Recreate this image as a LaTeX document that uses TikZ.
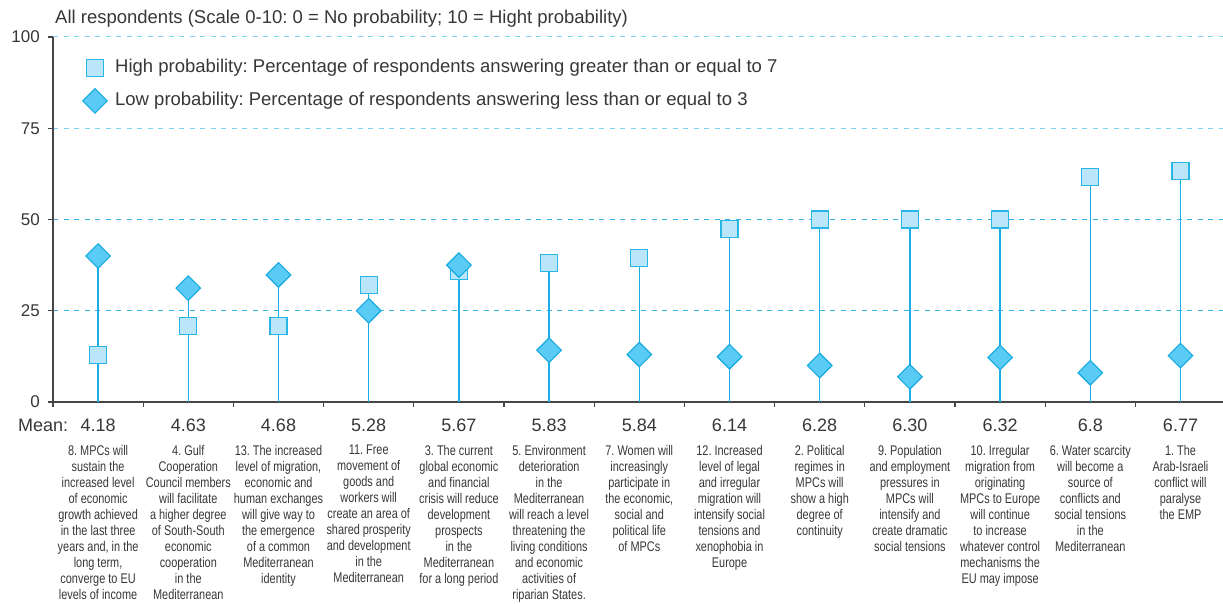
\documentclass[tikz,border=0pt]{standalone}
\usepackage{fontspec}
\setmainfont{Liberation Sans}
\newfontfamily\narrowfont[FakeStretch=0.78]{Liberation Sans}
\usetikzlibrary{shapes.geometric}
\frenchspacing

\definecolor{textgray}{RGB}{55,55,55}
\definecolor{axisgray}{RGB}{70,70,70}
\definecolor{stemblue}{RGB}{25,175,230}
\definecolor{gridlight}{RGB}{125,212,245}
\definecolor{griddark}{RGB}{55,178,228}
\definecolor{squarefill}{RGB}{187,229,248}
\definecolor{squareline}{RGB}{40,182,233}
\definecolor{diamondfill}{RGB}{90,203,245}
\definecolor{diamondline}{RGB}{20,170,225}

\tikzset{
  stemline/.style={stemblue, line width=1.3pt},
  gridline/.style={dash pattern=on 5pt off 5.5pt, line width=1pt},
  highmark/.style={draw=squareline, fill=squarefill, line width=1.1pt, minimum size=17pt, inner sep=0pt},
  lowmark/.style={diamond, aspect=1, draw=diamondline, fill=diamondfill, line width=1.1pt, minimum width=25pt, minimum height=25pt, inner sep=0pt},
  ticklabel/.style={anchor=east, inner sep=0pt, text=textgray, font=\fontsize{17}{19}\selectfont},
  meanlabel/.style={inner sep=0pt, text=textgray, font=\fontsize{18}{20}\selectfont},
  legendtext/.style={anchor=west, inner sep=0pt, text=textgray, font=\fontsize{18.5}{20}\selectfont},
  question/.style={anchor=north, align=center, inner sep=0pt, text=textgray, font=\narrowfont\fontsize{14}{16}\selectfont},
}

\begin{document}
\begin{tikzpicture}[x=90.2pt, y=3.65pt]
  \useasboundingbox (-53pt,-201pt) rectangle (1170pt,402pt);

  % Title
  \node[anchor=west, inner sep=0pt, text=textgray, font=\fontsize{18.5}{20}\selectfont] (title) at (0.022,105.1)
    {All respondents (Scale 0-10: 0 = No probability; 10 = Hight probability)};

  % Grid
  \draw[gridline, gridlight] (0,100) -- (12.971,100);
  \draw[gridline, gridlight] (0,75) -- (12.971,75);
  \draw[gridline, griddark] (0,50) -- (12.971,50);
  \draw[gridline, griddark] (0,25) -- (12.971,25);

  % Axes
  \draw[axisgray, line width=1.3pt] (0,100) -- (0,0) -- (12.971,0);
  \foreach \v in {0,25,50,75,100} {
    \draw[axisgray, line width=1.3pt] (0,\v) -- ++(-5pt,0);
    \node[ticklabel] (ylab\v) at (-0.144,\v) {\v};
  }
  \foreach \t in {0,...,12}
    \draw[axisgray, line width=1.3pt] (\t,0) -- ++(0,-5pt);

  % Legend
  \node[highmark] (keyhigh) at (0.466,91.5) {};
  \node[legendtext] (keyhightext) at (0.687,91.5)
    {High probability: Percentage of respondents answering greater than or equal to 7};
  \node[lowmark] (keylow) at (0.466,82.5) {};
  \node[legendtext] (keylowtext) at (0.687,82.5)
    {Low probability: Percentage of respondents answering less than or equal to 3};

  % Data: stems, high (square) and low (diamond) markers, means
  \node[meanlabel, anchor=west] (meantitle) at (-0.388,-6.3) {Mean:};
  \foreach \i/\m/\hi/\lo in {1/4.18/13/40, 2/4.63/20.8/31.2, 3/4.68/20.8/34.8,
      4/5.28/32/25, 5/5.67/36/37.5, 6/5.83/38/14.2, 7/5.84/39.5/13,
      8/6.14/47.4/12.4, 9/6.28/50/10, 10/6.30/50/6.9, 11/6.32/50/12.2,
      12/6.8/61.7/8, 13/6.77/63.3/12.7} {
    \pgfmathsetmacro{\peak}{max(\hi,\lo)}
    \coordinate (base\i) at (\i-0.5,0);
    \coordinate (peak\i) at (\i-0.5,\peak);
    \draw[stemline] (base\i) -- (peak\i);
    \node[highmark] (hi\i) at (\i-0.5,\hi) {};
    \node[lowmark] (lo\i) at (\i-0.5,\lo) {};
    \node[meanlabel] (mean\i) at (\i-0.5,-6.3) {\m};
  }

  % Statements
  \node[question] (q1) at (0.5,-11.8) {8. MPCs will\\sustain the\\increased level\\of economic\\growth achieved\\in the last three\\years and, in the\\long term,\\converge to EU\\levels of income};
  \node[question] (q2) at (1.5,-11.8) {4. Gulf\\Cooperation\\Council members\\will facilitate\\a higher degree\\of South-South\\economic\\cooperation\\in the\\Mediterranean};
  \node[question] (q3) at (2.5,-11.8) {13. The increased\\level of migration,\\economic and\\human exchanges\\will give way to\\the emergence\\of a common\\Mediterranean\\identity};
  \node[question] (q4) at (3.5,-11.8) {11. Free\\movement of\\goods and\\workers will\\create an area of\\shared prosperity\\and development\\in the\\Mediterranean};
  \node[question] (q5) at (4.5,-11.8) {3. The current\\global economic\\and financial\\crisis will reduce\\development\\prospects\\in the\\Mediterranean\\for a long period};
  \node[question] (q6) at (5.5,-11.8) {5. Environment\\deterioration\\in the\\Mediterranean\\will reach a level\\threatening the\\living conditions\\and economic\\activities of\\riparian States.};
  \node[question] (q7) at (6.5,-11.8) {7. Women will\\increasingly\\participate in\\the economic,\\social and\\political life\\of MPCs};
  \node[question] (q8) at (7.5,-11.8) {12. Increased\\level of legal\\and irregular\\migration will\\intensify social\\tensions and\\xenophobia in\\Europe};
  \node[question] (q9) at (8.5,-11.8) {2. Political\\regimes in\\MPCs will\\show a high\\degree of\\continuity};
  \node[question] (q10) at (9.5,-11.8) {9. Population\\and employment\\pressures in\\MPCs will\\intensify and\\create dramatic\\social tensions};
  \node[question] (q11) at (10.5,-11.8) {10. Irregular\\migration from\\originating\\MPCs to Europe\\will continue\\to increase\\whatever control\\mechanisms the\\EU may impose};
  \node[question] (q12) at (11.5,-11.8) {6. Water scarcity\\will become a\\source of\\conflicts and\\social tensions\\in the\\Mediterranean};
  \node[question] (q13) at (12.5,-11.8) {1. The\\Arab-Israeli\\conflict will\\paralyse\\the EMP};
\end{tikzpicture}
\end{document}
